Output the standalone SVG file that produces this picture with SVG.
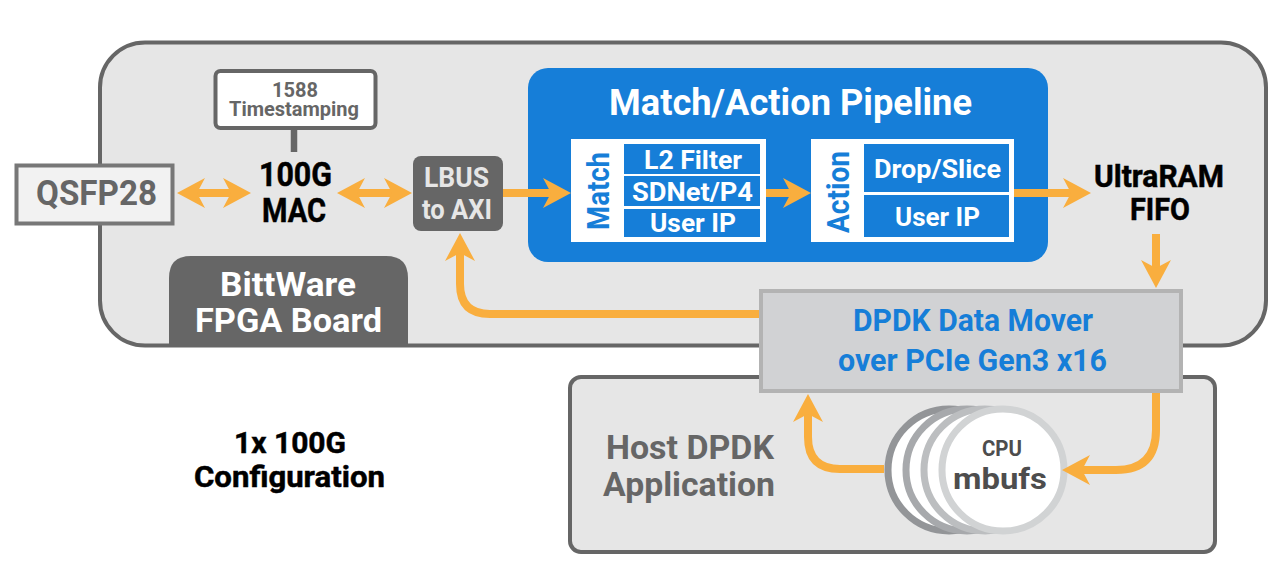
<svg xmlns="http://www.w3.org/2000/svg" width="1280" height="568" viewBox="0 0 1280 568">
<style>
text{font-family:"Roboto","Liberation Sans",sans-serif;font-weight:700}
.w{fill:#fff}.k{fill:#000;stroke:#000;stroke-width:.5}.g{fill:#666}.b{fill:#167ed8}.d{fill:#4d4d4d}
.m{stroke:#f9ae3e;stroke-width:8;fill:none}
.cell{fill:#167ed8}
.disc{fill:#fff;stroke-width:7}
</style>
<defs>
<marker id="ah" markerUnits="userSpaceOnUse" markerWidth="32" markerHeight="32" viewBox="0 0 32 32" refX="13" refY="16" orient="auto-start-reverse">
<path d="M0 1L28 16L0 31L8 16Z" fill="#f9ae3e"/>
</marker>
</defs>
<g id="fpga-board"><rect x="100" y="42.500" width="1166" height="303" rx="45" fill="#e6e6e6" stroke="#666" stroke-width="4"/></g>
<g id="host-app">
<rect x="570" y="377" width="645" height="175" rx="11" fill="#e6e6e6" stroke="#666" stroke-width="4"/>
<text class="g" x="606" y="459" font-size="34" textLength="168" lengthAdjust="spacingAndGlyphs">Host DPDK</text>
<text class="g" x="603" y="496" font-size="34" textLength="172" lengthAdjust="spacingAndGlyphs">Application</text>
</g>
<g id="bittware-label">
<path d="M169 346V278Q169 256 191 256H386Q408 256 408 278V346Z" fill="#666"/>
<text class="w" x="220" y="296" font-size="34" textLength="136" lengthAdjust="spacingAndGlyphs">BittWare</text>
<text class="w" x="195" y="332" font-size="34" textLength="187" lengthAdjust="spacingAndGlyphs">FPGA Board</text>
</g>
<g id="qsfp28">
<rect x="16.500" y="165.500" width="156" height="58" fill="#f2f2f2" stroke="#777" stroke-width="4"/>
<text class="g" x="36" y="205" font-size="35" textLength="121" lengthAdjust="spacingAndGlyphs">QSFP28</text>
</g>
<g id="timestamping">
<rect x="215.500" y="71" width="160" height="57" rx="5" fill="#fff" stroke="#666" stroke-width="4"/>
<text class="g" x="272" y="97" font-size="21" textLength="46" lengthAdjust="spacingAndGlyphs">1588</text>
<text class="g" x="229" y="116" font-size="20" textLength="130" lengthAdjust="spacingAndGlyphs">Timestamping</text>
</g>
<g id="mac">
<text class="k" x="259" y="186" font-size="33" textLength="73" lengthAdjust="spacingAndGlyphs">100G</text>
<text class="k" x="262" y="222" font-size="33" textLength="64" lengthAdjust="spacingAndGlyphs">MAC</text>
</g>
<g id="lbus">
<rect x="413" y="156" width="90" height="75" rx="8" fill="#666"/>
<text x="424" y="187" font-size="27" textLength="65" lengthAdjust="spacingAndGlyphs" fill="#e6e6e6">LBUS</text>
<text x="422" y="219" font-size="27" textLength="70" lengthAdjust="spacingAndGlyphs" fill="#e6e6e6">to AXI</text>
</g>
<g id="pipeline">
<rect x="528" y="68" width="520" height="194" rx="20" fill="#167ed8"/>
<text class="w" x="609" y="115" font-size="37" textLength="363" lengthAdjust="spacingAndGlyphs">Match/Action Pipeline</text>
</g>
<g id="match">
<rect x="571" y="139" width="195" height="103" fill="#fff"/>
<rect class="cell" x="624" y="144" width="136" height="30"/>
<rect class="cell" x="624" y="176" width="136" height="30"/>
<rect class="cell" x="624" y="209" width="136" height="28"/>
<text class="b" transform="translate(609 230) rotate(-90)" font-size="32" textLength="78" lengthAdjust="spacingAndGlyphs">Match</text>
<text class="w" x="644" y="169" font-size="26" textLength="98" lengthAdjust="spacingAndGlyphs">L2 Filter</text>
<text class="w" x="632" y="201" font-size="26" textLength="121" lengthAdjust="spacingAndGlyphs">SDNet/P4</text>
<text class="w" x="650" y="232" font-size="26" textLength="86" lengthAdjust="spacingAndGlyphs">User IP</text>
</g>
<g id="action">
<rect x="811" y="139" width="203" height="103" fill="#fff"/>
<rect class="cell" x="864" y="144" width="145" height="48"/>
<rect class="cell" x="864" y="195" width="145" height="42"/>
<text class="b" transform="translate(849 233) rotate(-90)" font-size="32" textLength="82" lengthAdjust="spacingAndGlyphs">Action</text>
<text class="w" x="874" y="178" font-size="26" textLength="127" lengthAdjust="spacingAndGlyphs">Drop/Slice</text>
<text class="w" x="895" y="226" font-size="26" textLength="85" lengthAdjust="spacingAndGlyphs">User IP</text>
</g>
<g id="ultraram">
<text class="k" x="1094" y="187" font-size="31" textLength="130" lengthAdjust="spacingAndGlyphs">UltraRAM</text>
<text class="k" x="1130" y="220" font-size="31" textLength="60" lengthAdjust="spacingAndGlyphs">FIFO</text>
</g>
<g id="data-mover">
<rect x="761" y="291" width="420" height="100" fill="#d1d2d4" stroke="#b3b3b3" stroke-width="4"/>
<text class="b" x="853" y="331" font-size="31" textLength="240" lengthAdjust="spacingAndGlyphs">DPDK Data Mover</text>
<text class="b" x="838" y="371" font-size="31" textLength="269" lengthAdjust="spacingAndGlyphs">over PCIe Gen3 x16</text>
</g>
<g id="mbufs">
<circle class="disc" cx="949" cy="470" r="61" stroke="#939598"/>
<circle class="disc" cx="967" cy="470" r="61" stroke="#a7a9ac"/>
<circle class="disc" cx="985" cy="470" r="61" stroke="#bcbec0"/>
<circle class="disc" cx="1003" cy="470" r="61" stroke="#d1d3d4"/>
<text class="d" x="982" y="456" font-size="22" textLength="40" lengthAdjust="spacingAndGlyphs">CPU</text>
<text class="d" x="953" y="489" font-size="29" textLength="94" lengthAdjust="spacingAndGlyphs">mbufs</text>
</g>
<g id="config-label">
<text class="k" x="234" y="453" font-size="30" textLength="112" lengthAdjust="spacingAndGlyphs">1x 100G</text>
<text class="k" x="194" y="487" font-size="30" textLength="191" lengthAdjust="spacingAndGlyphs">Configuration</text>
</g>
<g id="connectors">
<path d="M294 129V152" stroke="#666" stroke-width="6.500" fill="none"/>
<path class="m" d="M192 193H236" marker-start="url(#ah)" marker-end="url(#ah)"/>
<path class="m" d="M352 193H397" marker-start="url(#ah)" marker-end="url(#ah)"/>
<path class="m" d="M503 193H556" marker-end="url(#ah)"/>
<path class="m" d="M766 193H796" marker-end="url(#ah)"/>
<path class="m" d="M1014 193H1076" marker-end="url(#ah)"/>
<path class="m" d="M1156 234V273" marker-end="url(#ah)"/>
<path class="m" d="M759 314H490Q460 314 460 284V248" marker-end="url(#ah)"/>
<path class="m" d="M1156 393V430Q1156 470 1116 470H1077" marker-end="url(#ah)"/>
<path class="m" d="M884 469H840Q808 469 808 437V409" marker-end="url(#ah)"/>
</g>
</svg>
